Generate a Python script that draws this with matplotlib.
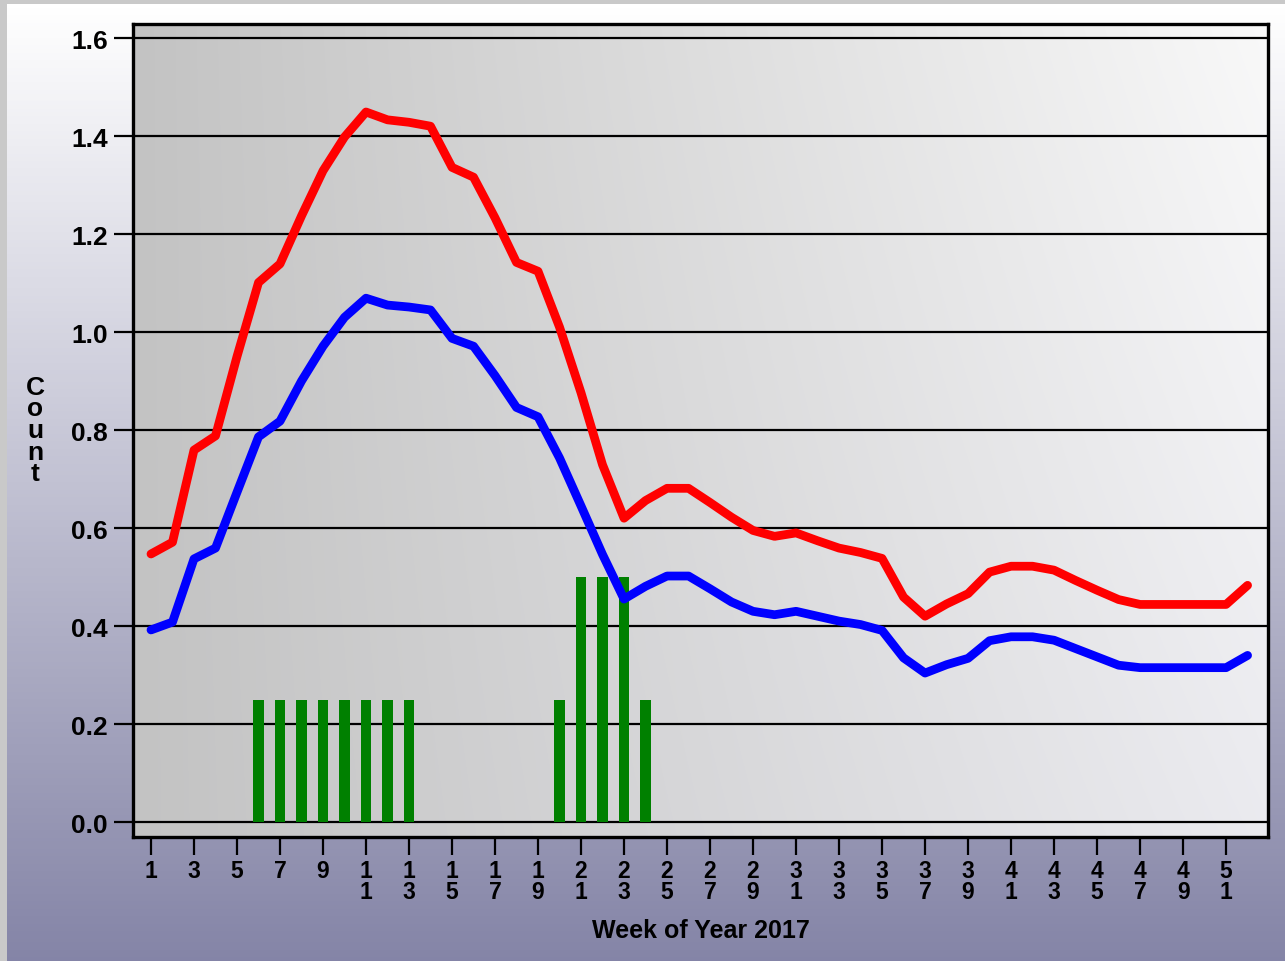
import numpy as np
import matplotlib
matplotlib.use("Agg")
import matplotlib.pyplot as plt

# ---- data -------------------------------------------------------------
weeks = list(range(1, 53))

upper_series = [0.547, 0.571, 0.759, 0.788, 0.950, 1.101, 1.139, 1.237, 1.329, 1.398,
                1.449, 1.433, 1.428, 1.420, 1.336, 1.316, 1.233, 1.142, 1.124, 1.010,
                0.876, 0.729, 0.620, 0.656, 0.681, 0.681, 0.652, 0.622, 0.595, 0.583,
                0.590, 0.574, 0.559, 0.550, 0.538, 0.459, 0.420, 0.445, 0.466, 0.510,
                0.522, 0.522, 0.514, 0.493, 0.473, 0.454, 0.444, 0.444, 0.444, 0.444,
                0.444, 0.483]

lower_series = [0.392, 0.408, 0.537, 0.559, 0.673, 0.786, 0.818, 0.900, 0.971, 1.030,
                1.069, 1.055, 1.051, 1.045, 0.987, 0.971, 0.911, 0.846, 0.827, 0.743,
                0.645, 0.546, 0.455, 0.481, 0.502, 0.502, 0.476, 0.449, 0.430, 0.423,
                0.430, 0.420, 0.410, 0.403, 0.391, 0.335, 0.304, 0.321, 0.334, 0.370,
                0.378, 0.378, 0.371, 0.354, 0.337, 0.320, 0.315, 0.315, 0.315, 0.315,
                0.315, 0.340]

bar_weeks = [6, 7, 8, 9, 10, 11, 12, 13, 20, 21, 22, 23, 24]
bar_counts = [0.25, 0.25, 0.25, 0.25, 0.25, 0.25, 0.25, 0.25, 0.25, 0.5, 0.5, 0.5, 0.25]

y_ticks = [0.0, 0.2, 0.4, 0.6, 0.8, 1.0, 1.2, 1.4, 1.6]
x_ticks = list(range(1, 52, 2))

x_title = "Week of Year 2017"
y_title = "Count"

# ---- figure -----------------------------------------------------------
W, H, DPI = 1285, 962, 100
fig = plt.figure(figsize=(W / DPI, H / DPI), dpi=DPI)
fig.patch.set_facecolor("#c9c9c9")

# vertical white -> slate gradient panel behind everything
bg = fig.add_axes([7 / W, 0, 1 - 7 / W, 1 - 5 / H], zorder=-10)
t = np.linspace(0, 1, 256)[:, None]
top = np.array([1.0, 1.0, 1.0])
bot = np.array([0.52, 0.52, 0.655])
grad = top[None, None, :] * (1 - t[..., None]) + bot[None, None, :] * t[..., None]
grad = np.repeat(grad, 2, axis=1)
bg.imshow(grad, aspect="auto", extent=[0, 1, 0, 1], origin="upper")
bg.set_axis_off()

FONT = "Liberation Sans"

left, right, topy, boty = 133, 1268, 25, 838
ax = fig.add_axes([left / W, 1 - boty / H, (right - left) / W, (boty - topy) / H])
ax.set_facecolor("none")

# plot-area gradient: grey on the left fading to near-white on the right
nx, ny = 300, 100
gx = np.linspace(0, 1, nx)[None, :]
gy = np.linspace(1, 0, ny)[:, None]  # 1 at top row
g = 0.765 + 0.21 * gx - 0.055 * gx * (1 - gy)
img = np.dstack([g, g, g + 0.018 * gx * (1 - gy)])
img = np.clip(img, 0, 1)
ax.imshow(img, aspect="auto", extent=[0, 1, 0, 1], transform=ax.transAxes,
          zorder=0, interpolation="bilinear")

ax.set_xlim(0.163, 52.95)
ax.set_ylim(-0.0306, 1.6286)

# horizontal grid lines
for v in y_ticks:
    ax.axhline(v, color="black", lw=1.6, zorder=1)

ax.bar(bar_weeks, bar_counts, width=0.47, color="#008000", zorder=2)

ax.plot(weeks, upper_series, color="#ff0000", lw=6.3, solid_capstyle="round",
        solid_joinstyle="round", zorder=3)
ax.plot(weeks, lower_series, color="#0000ff", lw=6.3, solid_capstyle="round",
        solid_joinstyle="round", zorder=3)

for s in ax.spines.values():
    s.set_linewidth(2.4)
    s.set_color("black")
    s.set_zorder(5)

ax.set_yticks(y_ticks)
ax.set_yticklabels([f"{v:.1f}" for v in y_ticks], fontfamily=FONT,
                   fontweight="bold", fontsize=19)
ax.set_xticks(x_ticks)
ax.set_xticklabels(["\n".join(str(w)) for w in x_ticks], fontfamily=FONT,
                   fontweight="bold", fontsize=16.5, linespacing=0.85, va="top")
ax.tick_params(axis="y", direction="out", length=14, width=1.6, pad=4)
ax.tick_params(axis="x", direction="out", length=13, width=1.6, pad=3)

fig.text((left + right) / 2 / W, 1 - 931 / H, x_title, ha="center", va="center",
         fontfamily=FONT, fontweight="bold", fontsize=18)
fig.text(35 / W, 1 - 431 / H, "\n".join(y_title), ha="center", va="center",
         fontfamily=FONT, fontweight="bold", fontsize=19, linespacing=0.88)

fig.savefig("out.png", dpi=DPI)
